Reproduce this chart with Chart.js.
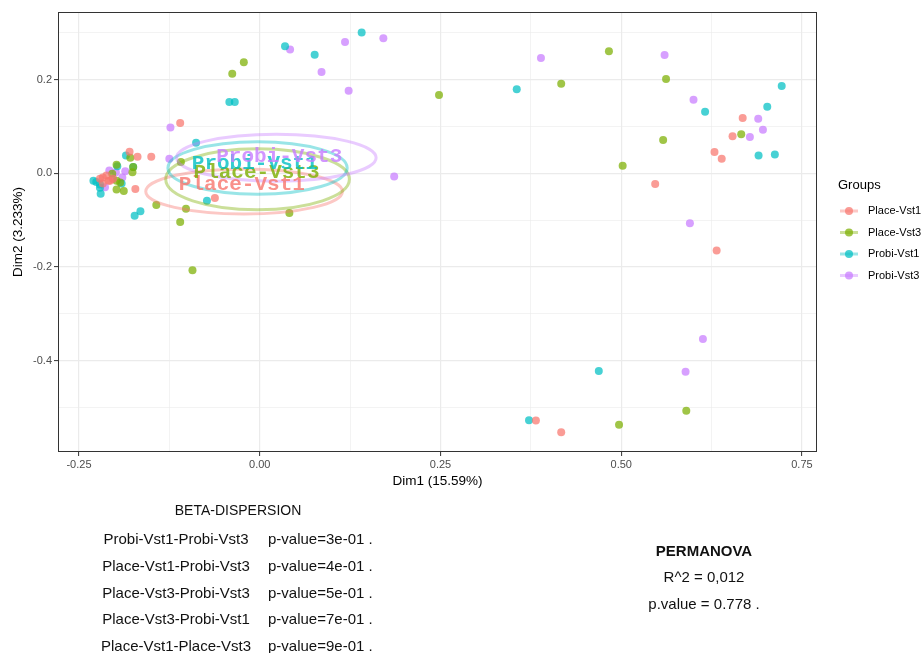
<!DOCTYPE html>
<html>
<head>
<meta charset="utf-8">
<script src="https://cdn.jsdelivr.net/npm/chart.js@4/dist/chart.umd.min.js"></script>
<style>
  html, body { margin: 0; padding: 0; background: #ffffff; }
  canvas { display: block; }
</style>
</head>
<body>
<canvas id="pcoa" width="921" height="653"></canvas>
<script>
// ---- data ----------------------------------------------------------------
const groups = ['Place-Vst1', 'Place-Vst3', 'Probi-Vst1', 'Probi-Vst3'];

// PCoA coordinates [Dim1, Dim2] per sample
const placeVst1 = [
  [0.668, 0.118], [0.654, 0.079], [0.629, 0.045], [0.639, 0.031], [0.547, -0.023],
  [0.632, -0.165], [0.382, -0.528], [0.417, -0.553],
  [-0.110, 0.107], [-0.150, 0.035], [-0.169, 0.035], [-0.180, 0.046], [-0.062, -0.053],
  [-0.172, -0.034], [-0.212, -0.005], [-0.217, -0.009], [-0.203, -0.012], [-0.221, -0.012],
  [-0.209, -0.016], [-0.217, -0.022], [-0.207, -0.016]
];
const placeVst3 = [
  [0.483, 0.260], [0.417, 0.191], [0.562, 0.201], [0.666, 0.083], [0.558, 0.071],
  [0.502, 0.016], [0.590, -0.507], [0.497, -0.537], [0.248, 0.167], [-0.022, 0.237],
  [-0.038, 0.212], [-0.109, 0.024], [0.041, -0.085], [-0.143, -0.068], [-0.102, -0.076],
  [-0.110, -0.104], [-0.093, -0.207], [-0.198, -0.035], [-0.188, -0.038], [-0.198, 0.018],
  [-0.175, 0.013], [-0.204, -0.001], [-0.176, 0.002], [-0.198, -0.016], [-0.193, -0.020],
  [-0.179, 0.033]
];
const probiVst1 = [
  [0.3555, 0.179], [0.616, 0.131], [0.722, 0.186], [0.702, 0.142], [0.690, 0.038],
  [0.7125, 0.040], [0.469, -0.422], [0.3725, -0.527], [0.141, 0.300], [0.035, 0.271],
  [0.076, 0.253], [-0.042, 0.152], [-0.0345, 0.152], [-0.088, 0.065], [-0.185, 0.038],
  [-0.073, -0.059], [-0.173, -0.091], [-0.165, -0.081], [-0.230, -0.016], [-0.226, -0.019],
  [-0.221, -0.024], [-0.191, -0.022], [-0.221, -0.031], [-0.175, 0.013], [-0.197, 0.015],
  [-0.220, -0.044]
];
const probiVst3 = [
  [0.389, 0.246], [0.560, 0.252], [0.600, 0.157], [0.6895, 0.116], [0.696, 0.0925],
  [0.678, 0.077], [0.595, -0.107], [0.613, -0.354], [0.589, -0.424], [0.171, 0.288],
  [0.118, 0.280], [0.042, 0.264], [0.0855, 0.216], [0.123, 0.176], [-0.1235, 0.0975],
  [-0.125, 0.031], [0.186, -0.007], [-0.208, 0.006], [-0.186, 0.004], [-0.199, 0.002],
  [-0.190, -0.009], [-0.214, -0.030], [-0.203, -0.012]
];
const groupPoints = [placeVst1, placeVst3, probiVst1, probiVst3];

// group ellipses (data units): centre and semi-axes
const ellipseCenterX = [-0.0216, -0.003, -0.003, 0.023];
const ellipseCenterY = [-0.039, -0.013, 0.0113, 0.033];
const ellipseRadiusX = [0.136, 0.127, 0.124, 0.138];
const ellipseRadiusY = [0.048, 0.065, 0.056, 0.050];

// group name labels (data units)
const labelX = [-0.0247, -0.0044, -0.0068, 0.027];
const labelY = [-0.025, 0.000, 0.021, 0.035];

// axis ticks
const xTickValues = [-0.25, 0, 0.25, 0.5, 0.75];
const xTickLabels = ['-0.25', '0.00', '0.25', '0.50', '0.75'];
const xMinorValues = [-0.125, 0.125, 0.375, 0.625];
const yTickValues = [-0.4, -0.2, 0, 0.2];
const yTickLabels = ['-0.4', '-0.2', '0.0', '0.2'];
const yMinorValues = [-0.5, -0.3, -0.1, 0.1, 0.3];

const xTitle = 'Dim1 (15.59%)';
const yTitle = 'Dim2 (3.233%)';
const legendTitle = 'Groups';

// statistics
const betaTitle = 'BETA-DISPERSION';
const betaPairs = ['Probi-Vst1-Probi-Vst3', 'Place-Vst1-Probi-Vst3', 'Place-Vst3-Probi-Vst3',
                   'Place-Vst3-Probi-Vst1', 'Place-Vst1-Place-Vst3'];
const betaPValues = ['3e-01', '4e-01', '5e-01', '7e-01', '9e-01'];
const permanovaTitle = 'PERMANOVA';
const permanovaR2 = '0,012';
const permanovaP = '0.778';

// ---- styling -------------------------------------------------------------
const groupColors = ['#F8766D', '#7CAE00', '#00BFC4', '#C77CFF'];
const SANS = '"Liberation Sans", Arial, Helvetica, sans-serif';
const MONO = '"Liberation Mono", "Courier New", monospace';

function rgba(hex, a) {
  const n = parseInt(hex.slice(1), 16);
  return `rgba(${(n >> 16) & 255},${(n >> 8) & 255},${n & 255},${a})`;
}
const near = (a, b) => Math.abs(a - b) < 1e-9;
const isMajor = (vals, v) => vals.some(t => near(t, v));
function labelFor(vals, labels, v) {
  const i = vals.findIndex(t => near(t, v));
  return i >= 0 ? labels[i] : '';
}

// ellipses, group labels, panel border, legend and annotations
const overlay = {
  id: 'overlay',
  afterDatasetsDraw(chart) {
    const { ctx, chartArea: a, scales: { x, y } } = chart;
    ctx.save();
    ctx.beginPath();
    ctx.rect(a.left, a.top, a.right - a.left, a.bottom - a.top);
    ctx.clip();

    groups.forEach((g, i) => {
      const cx = x.getPixelForValue(ellipseCenterX[i]);
      const cy = y.getPixelForValue(ellipseCenterY[i]);
      const rx = Math.abs(x.getPixelForValue(ellipseCenterX[i] + ellipseRadiusX[i]) - cx);
      const ry = Math.abs(y.getPixelForValue(ellipseCenterY[i] + ellipseRadiusY[i]) - cy);
      ctx.beginPath();
      ctx.ellipse(cx, cy, rx, ry, 0, 0, Math.PI * 2);
      ctx.strokeStyle = rgba(groupColors[i], 0.4);
      ctx.lineWidth = 3;
      ctx.stroke();
    });

    ctx.font = `bold 21px ${MONO}`;
    ctx.textAlign = 'center';
    ctx.textBaseline = 'middle';
    groups.forEach((g, i) => {
      ctx.fillStyle = rgba(groupColors[i], 0.8);
      ctx.fillText(g, x.getPixelForValue(labelX[i]), y.getPixelForValue(labelY[i]));
    });
    ctx.restore();

    ctx.save();
    ctx.strokeStyle = '#333333';
    ctx.lineWidth = 1;
    ctx.strokeRect(Math.round(a.left) + 0.5, Math.round(a.top) + 0.5,
                   Math.round(a.right - a.left) - 1, Math.round(a.bottom - a.top) - 1);
    ctx.restore();
  },
  afterDraw(chart) {
    const { ctx, chartArea: a } = chart;
    ctx.save();
    ctx.fillStyle = '#000000';
    ctx.textBaseline = 'middle';

    // axis titles
    ctx.font = `13.5px ${SANS}`;
    ctx.textAlign = 'center';
    ctx.fillText(xTitle, (a.left + a.right) / 2, 481);
    ctx.save();
    ctx.translate(18, (a.top + a.bottom) / 2);
    ctx.rotate(-Math.PI / 2);
    ctx.fillText(yTitle, 0, 0);
    ctx.restore();

    // legend
    ctx.textAlign = 'left';
    ctx.font = `13px ${SANS}`;
    ctx.fillText(legendTitle, 838, 185);
    ctx.font = `11px ${SANS}`;
    groups.forEach((g, i) => {
      const ky = 211 + i * 21.5;
      ctx.strokeStyle = rgba(groupColors[i], 0.4);
      ctx.lineWidth = 3;
      ctx.beginPath();
      ctx.moveTo(840, ky);
      ctx.lineTo(858, ky);
      ctx.stroke();
      ctx.fillStyle = rgba(groupColors[i], 0.72);
      ctx.beginPath();
      ctx.arc(849, ky, 4, 0, Math.PI * 2);
      ctx.fill();
      ctx.fillStyle = '#000000';
      ctx.fillText(g, 868, ky);
    });

    // beta-dispersion table
    ctx.fillStyle = '#111111';
    ctx.font = `14px ${SANS}`;
    ctx.textAlign = 'center';
    ctx.fillText(betaTitle, 238, 511.5);
    ctx.font = `15px ${SANS}`;
    betaPairs.forEach((p, i) => {
      const ry = 540 + i * 26.7;
      ctx.textAlign = 'center';
      ctx.fillText(p, 176, ry);
      ctx.textAlign = 'left';
      ctx.fillText(`p-value=${betaPValues[i]} .`, 268, ry);
    });

    // permanova
    ctx.textAlign = 'center';
    ctx.font = `bold 15px ${SANS}`;
    ctx.fillText(permanovaTitle, 704, 551.5);
    ctx.font = `15px ${SANS}`;
    ctx.fillText(`R^2 = ${permanovaR2}`, 704, 578.3);
    ctx.fillText(`p.value = ${permanovaP} .`, 704, 605);
    ctx.restore();
  }
};

const gridStyle = (majors) => ({
  drawOnChartArea: true,
  drawTicks: true,
  tickLength: 4,
  color: '#EBEBEB',
  lineWidth: (c) => (c.tick && isMajor(majors, c.tick.value)) ? 1.2 : 0.6,
  tickColor: (c) => (c.tick && isMajor(majors, c.tick.value)) ? '#333333' : 'rgba(0,0,0,0)',
  tickWidth: 1
});

new Chart(document.getElementById('pcoa'), {
  type: 'scatter',
  data: {
    datasets: groups.map((g, i) => ({
      label: g,
      data: groupPoints[i].map(([dx, dy]) => ({ x: dx, y: dy })),
      backgroundColor: rgba(groupColors[i], 0.72),
      borderColor: rgba(groupColors[i], 0.72),
      borderWidth: 0,
      pointRadius: 4,
      pointHoverRadius: 4
    }))
  },
  options: {
    responsive: false,
    animation: false,
    devicePixelRatio: 1,
    events: [],
    layout: { padding: { top: 12, right: 104, bottom: 0, left: 0 } },
    plugins: { legend: { display: false }, tooltip: { enabled: false } },
    scales: {
      x: {
        type: 'linear',
        min: -0.279,
        max: 0.7708,
        afterBuildTicks: (s) => {
          s.ticks = [...xTickValues, ...xMinorValues].sort((p, q) => p - q).map(v => ({ value: v }));
        },
        afterFit: (s) => { s.height = 201; },
        border: { display: false },
        grid: gridStyle(xTickValues),
        ticks: {
          autoSkip: false, maxRotation: 0, minRotation: 0, padding: 2,
          color: '#4D4D4D', font: { family: SANS, size: 11 },
          callback: (v) => labelFor(xTickValues, xTickLabels, v)
        }
      },
      y: {
        type: 'linear',
        min: -0.595,
        max: 0.344,
        afterBuildTicks: (s) => {
          s.ticks = [...yTickValues, ...yMinorValues].sort((p, q) => p - q).map(v => ({ value: v }));
        },
        afterFit: (s) => { s.width = 58; },
        border: { display: false },
        grid: gridStyle(yTickValues),
        ticks: {
          autoSkip: false, padding: 2,
          color: '#4D4D4D', font: { family: SANS, size: 11 },
          callback: (v) => labelFor(yTickValues, yTickLabels, v)
        }
      }
    }
  },
  plugins: [overlay]
});
</script>
</body>
</html>
